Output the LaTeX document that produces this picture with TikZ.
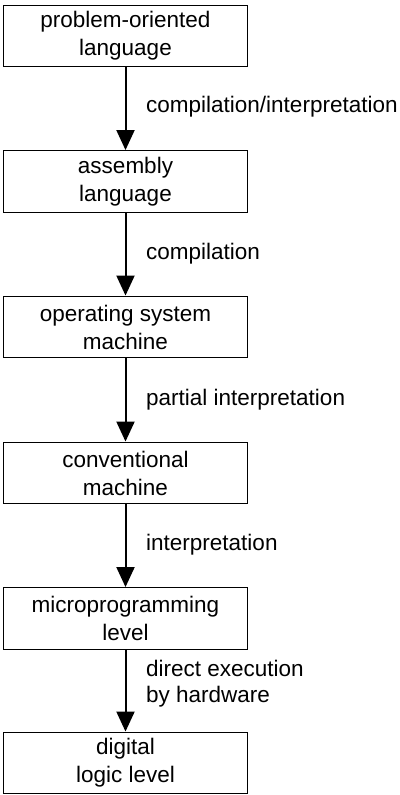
\documentclass[tikz,border=0pt]{standalone}
\usepackage{fontspec}
\setmainfont{Liberation Sans}
\usetikzlibrary{arrows.meta}
\begin{document}
\begin{tikzpicture}[x=1pt,y=-1pt,
  level/.style={draw,line width=1.4pt,minimum width=243.5pt,minimum height=61.5pt,
    inner sep=0pt,align=center,font=\fontsize{22.5}{28}\selectfont},
  flow/.style={line width=2pt,-{Triangle[width=18pt,length=20pt]}},
  note/.style={anchor=base west,inner sep=0pt,align=left,font=\fontsize{22.5}{26}\selectfont}]
\useasboundingbox (0,0) rectangle (399,795);

% the six levels, top to bottom
\node[level] (pol) at (125.5,36)    {problem-oriented\\language};
\node[level] (asm) at (125.5,181.5) {assembly\\language};
\node[level] (osm) at (125.5,327)   {operating system\\machine};
\node[level] (cvm) at (125.5,473)   {conventional\\machine};
\node[level] (mpl) at (125.5,618.5) {microprogramming\\level};
\node[level] (dll) at (125.5,763)   {digital\\logic level};

% translation steps between levels
\draw[flow] (pol) -- (asm);
\draw[flow] (asm) -- (osm);
\draw[flow] (osm) -- (cvm);
\draw[flow] (cvm) -- (mpl);
\draw[flow] (mpl) -- (dll);

\node[note] (l1) at (146,112.7) {compilation/interpretation};
\node[note] (l2) at (146,259)   {compilation};
\node[note] (l3) at (146,405)   {partial interpretation};
\node[note] (l4) at (146,550)   {interpretation};
\node[note] (l5) at (146,702)   {direct execution\\by hardware};
\end{tikzpicture}
\end{document}
